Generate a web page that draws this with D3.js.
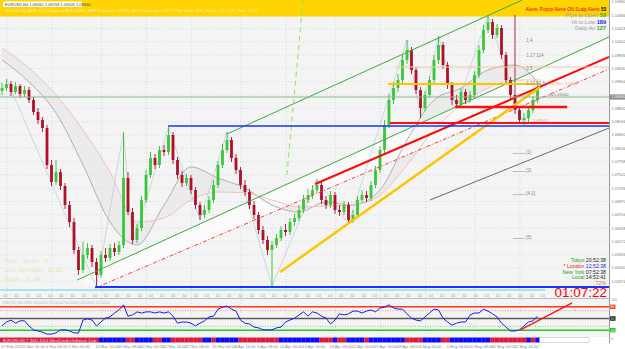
<!DOCTYPE html>
<html>
<head>
<meta charset="utf-8">
<script src="https://cdn.jsdelivr.net/npm/d3@7"></script>
<style>
  body { margin: 0; background: #fff; }
  svg { display: block; font-family: "Liberation Sans", Arial, sans-serif; }
</style>
</head>
<body>
<div id="chart"></div>
<script>
// ---- data (EURUSD H4) ----
var candleOpen = [1.0918,1.0924,1.0932,1.0916,1.0928,1.0912,1.0920,1.0900,1.0876,1.0860,
  1.0844,1.0770,1.0736,1.0756,1.0728,1.0690,1.0656,1.0600,1.0560,1.0590,
  1.0604,1.0576,1.0550,1.0590,1.0584,1.0604,1.0596,1.0610,1.0744,1.0676,
  1.0620,1.0644,1.0700,1.0750,1.0784,1.0770,1.0800,1.0796,1.0830,1.0780,
  1.0750,1.0734,1.0744,1.0720,1.0690,1.0670,1.0680,1.0700,1.0730,1.0770,
  1.0800,1.0820,1.0784,1.0760,1.0730,1.0716,1.0690,1.0670,1.0640,1.0620,
  1.0600,1.0610,1.0624,1.0640,1.0636,1.0656,1.0664,1.0680,1.0700,1.0710,
  1.0720,1.0730,1.0700,1.0690,1.0710,1.0680,1.0676,1.0690,1.0660,1.0670,
  1.0700,1.0710,1.0704,1.0730,1.0760,1.0800,1.0850,1.0900,1.0924,1.0940,
  1.0980,1.1000,1.0960,1.0920,1.0884,1.0910,1.0940,1.0980,1.1010,1.0970,
  1.0930,1.0900,1.0892,1.0916,1.0900,1.0910,1.0950,1.1000,1.1040,1.1056,
  1.1030,1.1044,1.0990,1.0940,1.0910,1.0880,1.0860,1.0864,1.0880,1.0900];
var candleClose = [1.0924,1.0932,1.0916,1.0928,1.0912,1.0920,1.0900,1.0876,1.0860,1.0844,
  1.0770,1.0736,1.0756,1.0728,1.0690,1.0656,1.0600,1.0560,1.0590,1.0604,
  1.0576,1.0550,1.0590,1.0584,1.0604,1.0596,1.0610,1.0744,1.0676,1.0620,
  1.0644,1.0700,1.0750,1.0784,1.0770,1.0800,1.0796,1.0830,1.0780,1.0750,
  1.0734,1.0744,1.0720,1.0690,1.0670,1.0680,1.0700,1.0730,1.0770,1.0800,
  1.0820,1.0784,1.0760,1.0730,1.0716,1.0690,1.0670,1.0640,1.0620,1.0600,
  1.0610,1.0624,1.0640,1.0636,1.0656,1.0664,1.0680,1.0700,1.0710,1.0720,
  1.0730,1.0700,1.0690,1.0710,1.0680,1.0676,1.0690,1.0660,1.0670,1.0700,
  1.0710,1.0704,1.0730,1.0760,1.0800,1.0850,1.0900,1.0924,1.0940,1.0980,
  1.1000,1.0960,1.0920,1.0884,1.0910,1.0940,1.0980,1.1010,1.0970,1.0930,
  1.0900,1.0892,1.0916,1.0900,1.0910,1.0950,1.1000,1.1040,1.1056,1.1030,
  1.1044,1.0990,1.0940,1.0910,1.0880,1.0860,1.0864,1.0880,1.0900,1.0924];
var candleHigh = [1.0934,1.0942,1.0938,1.0936,1.0932,1.0928,1.0926,1.0906,1.0884,1.0866,
  1.0850,1.0780,1.0780,1.0762,1.0734,1.0698,1.0664,1.0606,1.0616,1.0614,
  1.0610,1.0584,1.0598,1.0604,1.0612,1.0614,1.0618,1.0836,1.0756,1.0684,
  1.0652,1.0708,1.0760,1.0796,1.0792,1.0808,1.0810,1.0846,1.0836,1.0786,
  1.0758,1.0752,1.0750,1.0726,1.0696,1.0690,1.0708,1.0740,1.0778,1.0812,
  1.0836,1.0826,1.0792,1.0766,1.0740,1.0722,1.0698,1.0676,1.0648,1.0628,
  1.0618,1.0632,1.0648,1.0652,1.0664,1.0672,1.0690,1.0710,1.0722,1.0730,
  1.0742,1.0736,1.0708,1.0718,1.0716,1.0690,1.0698,1.0696,1.0680,1.0708,
  1.0720,1.0718,1.0738,1.0768,1.0808,1.0860,1.0912,1.0936,1.0952,1.0990,
  1.1020,1.1006,1.0966,1.0926,1.0918,1.0948,1.0990,1.1028,1.1016,1.0976,
  1.0936,1.0910,1.0924,1.0922,1.0918,1.0958,1.1010,1.1050,1.1070,1.1062,
  1.1052,1.1050,1.0996,1.0946,1.1070,1.0888,1.0874,1.0888,1.0908,1.0930];
var candleLow = [1.0910,1.0918,1.0908,1.0912,1.0904,1.0906,1.0894,1.0870,1.0852,1.0836,
  1.0762,1.0728,1.0730,1.0720,1.0682,1.0646,1.0592,1.0550,1.0554,1.0582,
  1.0566,1.0526,1.0544,1.0576,1.0578,1.0588,1.0590,1.0604,1.0670,1.0612,
  1.0614,1.0638,1.0694,1.0744,1.0762,1.0764,1.0788,1.0790,1.0772,1.0742,
  1.0726,1.0728,1.0712,1.0682,1.0660,1.0664,1.0674,1.0694,1.0724,1.0764,
  1.0794,1.0776,1.0752,1.0722,1.0708,1.0682,1.0662,1.0632,1.0612,1.0590,
  1.0528,1.0604,1.0618,1.0628,1.0630,1.0648,1.0658,1.0674,1.0694,1.0702,
  1.0714,1.0692,1.0682,1.0684,1.0672,1.0668,1.0670,1.0652,1.0654,1.0664,
  1.0694,1.0696,1.0698,1.0724,1.0754,1.0794,1.0844,1.0892,1.0916,1.0934,
  1.0972,1.0952,1.0912,1.0864,1.0878,1.0904,1.0934,1.0972,1.0962,1.0922,
  1.0890,1.0884,1.0886,1.0892,1.0894,1.0904,1.0944,1.0994,1.1034,1.1022,
  1.1024,1.0982,1.0932,1.0902,1.0872,1.0852,1.0850,1.0856,1.0874,1.0894];

// RSI(14) per bar
var rsiValues = [31,41,46,38,44,44,31,21,18,15,
  10,10,13,21,21,18,13,13,46,49,
  46,31,41,51,54,64,72,85,56,59,
  67,64,67,67,64,67,64,67,56,38,
  41,41,38,31,38,44,54,56,74,79,
  82,74,69,46,38,36,28,26,21,21,
  21,26,28,41,46,51,59,67,56,67,
  64,56,51,36,46,62,59,62,69,69,
  64,69,72,67,77,79,85,77,74,74,
  62,51,46,44,54,64,74,72,51,41,
  33,38,41,41,59,64,64,74,69,62,
  54,38,28,18,18,21,31,41,44,56];
var rsiLevels = [80, 70, 50, 30, 20];
var rsiTrendIdx = [115.1, 126.7];
var rsiTrendVal = [20, 90];

// trend state strip under the RSI (R = down, B = up)
var trendState = ("RRRRRRRRRRRRRRRRRRRRRR BBBBBB RR BBBB RR BB RRRRRRR BB R BBBBB RRRRRRRRR " +
  "BBBBBBBBB RRR B RR BBBB R BBBBBBBB RRRR BBBB RR BBBBBBBBB RRRRRRRR B R B").replace(/ /g, "").split("");

// moving averages, sampled every 6 bars
var maIdx = [0,6,12,18,24,30,36,42,48,54,60,66,72,78,84,90,96,102,108,114,120];
var maSlow = [1.0980,1.0936,1.0874,1.0770,1.0656,1.0610,1.0690,1.0766,1.0744,1.0724,1.0690,
  1.0676,1.0696,1.0690,1.0720,1.0820,1.0900,1.0924,1.0960,1.0970,1.0924];
var maSlower = [1.1004,1.0964,1.0910,1.0840,1.0756,1.0656,1.0664,1.0700,1.0716,1.0714,1.0700,
  1.0686,1.0688,1.0690,1.0710,1.0770,1.0840,1.0890,1.0924,1.0940,1.0940];

// zigzag swing points
var zigIdx = [1,21,27,29,37,44,50,60,70,77,90,93,97,101,108,116,119];
var zigPrice = [1.0942,1.0526,1.0836,1.0612,1.0846,1.0660,1.0836,1.0528,1.0742,1.0652,
  1.1020,1.0864,1.1028,1.0884,1.1070,1.0850,1.0930];

// drawn trend lines (bar index, price)
var trendNames = ["chanTop","chanMid","chanLow","redTrend","redDash","yellowTrend","greenDash"];
var trendX1 = [50, 16.7, 95.1, 69.6, 20.7, 61.8, 66.9];
var trendP1 = [1.0832, 1.0540, 1.0700, 1.0732, 1.0524, 1.0556, 1.1100];
var trendX2 = [115.6, 134.9, 134.9, 134.9, 134.9, 119.6, 63.3];
var trendP2 = [1.1100, 1.1026, 1.0844, 1.0986, 1.0962, 1.0926, 1.0750];

// horizontal levels
var levelNames = ["pivot","fib","yellowTop","redShort","redLong","blueMid","blueLow","cyan"];
var levelPrice = [1.0906, 1.0966, 1.0932, 1.0886, 1.0854, 1.0848, 1.0526, 1.0520];
var levelFrom = [-1, 87.3, 85.8, 100.7, 86.2, 36.9, 20.7, -1];
var levelTo = [134.9, 134.9, 119.6, 125.6, 134.9, 134.9, 134.9, 120.7];

// fibo expansion labels
var fibText = ["1.4", "1.17 114", "1.5", "1.17 61.8", "[1]", "[2]", "[4.1]", "[5]"];
var fibPrice = [1.1020, 1.0990, 1.0964, 1.0934, 1.0796, 1.0760, 1.0714, 1.0626];

// axis labels
var priceTicks = [1.10960,1.10694,1.10428,1.10162,1.09896,1.09630,1.09364,1.09098,1.08832,1.08566,
  1.08300,1.08034,1.07768,1.07502,1.07236,1.06970,1.06704,1.06438,1.06172,1.05906,1.05640,1.05374];
var lastPrice = 1.0906;
var dateIdx = [0,5,10,15,21,26,31,36,41,47,52,57,62,67,73,78,83,88,93,99,104,109,114];
var dateLabels = ["27 Feb 2023","2 Mar 16:00","6 Mar 08:00","9 Mar 00:00","13 Mar 16:00","16 Mar 08:00",
  "20 Mar 00:00","22 Mar 16:00","27 Mar 08:00","30 Mar 00:00","3 Apr 16:00","6 Apr 08:00","11 Apr 00:00",
  "13 Apr 16:00","18 Apr 08:00","21 Apr 00:00","25 Apr 16:00","28 Apr 08:00","3 May 00:00","5 May 16:00",
  "10 May 08:00","15 May 00:00","17 May 16:00"];

var W = 625, H = 349, plotR = 609, mainB = 298;

var svg = d3.select("#chart").append("svg").attr("width", W).attr("height", H);

var x = d3.scaleLinear().domain([0, 120]).range([2, 542]);
var y = d3.scaleLinear().domain([1.1100, 1.0520]).range([0, 290]);
var rsiY = d3.scaleLinear().domain([0, 100]).range([338, 299]);

svg.append("defs").append("clipPath").attr("id", "mainClip")
  .append("rect").attr("x", 0).attr("y", 0).attr("width", plotR).attr("height", mainB);
svg.select("defs").append("clipPath").attr("id", "rsiClip")
  .append("rect").attr("x", 0).attr("y", 299).attr("width", plotR).attr("height", 38);

// backgrounds
svg.append("rect").attr("width", W).attr("height", H).attr("fill", "#fff");
svg.append("rect").attr("width", plotR).attr("height", mainB).attr("fill", "#f4f4f4");
svg.append("rect").attr("y", 299).attr("width", plotR).attr("height", 38).attr("fill", "#f4f4f4");

// grid
var gridX = dateIdx.filter(function (d, i) { return i % 2 === 0; });
svg.selectAll(".vgrid").data(gridX).enter().append("line")
  .attr("x1", function (d) { return x(d) + 5; }).attr("x2", function (d) { return x(d) + 5; })
  .attr("y1", 0).attr("y2", 337)
  .attr("stroke", "#c9d3dc").attr("stroke-dasharray", "1,2").attr("stroke-width", 0.8);
svg.selectAll(".hgrid").data(priceTicks).enter().append("line")
  .attr("x1", 0).attr("x2", plotR)
  .attr("y1", function (d) { return y(d); }).attr("y2", function (d) { return y(d); })
  .attr("stroke", "#c9d8e6").attr("stroke-dasharray", "1,2").attr("stroke-width", 0.8);

// yellow info banner
svg.append("rect").attr("width", plotR).attr("height", 16.5).attr("fill", "#ffd400");
svg.append("rect").attr("x", 3).attr("y", 1.5).attr("width", 79).attr("height", 5.5).attr("fill", "#fff");
svg.append("text").attr("x", 5).attr("y", 5.8).attr("font-size", 4).attr("fill", "#444")
  .text("EURUSD,H4  1.09062 1.09258 1.09026 1.09060");
svg.append("text").attr("x", 5).attr("y", 12).attr("font-size", 4).attr("fill", "#fff6c8")
  .text("Spread: 1.0  |  ATR: 127  |  Today vs ATR: 149%  |  ATR Projection: 1.0936  |  ATR Projection: 1.0777  |  Pip Value: $10  |  Swap: -7.1 / 1.8  |  Time: 14:52");

var main = svg.append("g").attr("clip-path", "url(#mainClip)");

// MA band and channel fill
var band = d3.area().curve(d3.curveMonotoneX)
  .x(function (d) { return x(d); })
  .y0(function (d, i) { return y(maSlow[i]); })
  .y1(function (d, i) { return y(maSlower[i]); });
main.append("path").datum(maIdx).attr("d", band).attr("fill", "#e4e4e4").attr("opacity", 0.55);

var chanFill = [[trendX1[1], trendP1[1]], [trendX2[1], trendP2[1]], [trendX2[4], trendP2[4]], [trendX1[4], trendP1[4]]];
main.append("path").datum(chanFill)
  .attr("d", d3.line().x(function (d) { return x(d[0]); }).y(function (d) { return y(d[1]); }))
  .attr("fill", "#ffffff").attr("opacity", 0.6);

// moving averages
[[maSlow, "#b0b0b0"], [maSlower, "#f4c0c0"]].forEach(function (m) {
  main.append("path").datum(maIdx)
    .attr("d", d3.line().curve(d3.curveMonotoneX)
      .x(function (d) { return x(d); })
      .y(function (d, i) { return y(m[0][i]); }))
    .attr("fill", "none").attr("stroke", m[1]).attr("stroke-width", 1);
});

// zigzag
main.append("path").datum(zigIdx)
  .attr("d", d3.line().x(function (d) { return x(d); }).y(function (d, i) { return y(zigPrice[i]); }))
  .attr("fill", "none").attr("stroke", "#b7c8d9").attr("stroke-width", 0.7);

// candles
var bars = d3.range(candleClose.length);
main.selectAll(".wick").data(bars).enter().append("line")
  .attr("x1", function (i) { return x(i); }).attr("x2", function (i) { return x(i); })
  .attr("y1", function (i) { return y(candleHigh[i]); })
  .attr("y2", function (i) { return y(candleLow[i]); })
  .attr("stroke", function (i) { return candleClose[i] >= candleOpen[i] ? "#2fbf2f" : "#b0102a"; })
  .attr("stroke-width", 0.9);
main.selectAll(".body").data(bars).enter().append("rect")
  .attr("x", function (i) { return x(i) - 1.4; })
  .attr("width", 2.8)
  .attr("y", function (i) { return y(Math.max(candleOpen[i], candleClose[i])); })
  .attr("height", function (i) { return Math.max(1, Math.abs(y(candleOpen[i]) - y(candleClose[i]))); })
  .attr("fill", function (i) { return candleClose[i] >= candleOpen[i] ? "#39c739" : "#b0102a"; });

// trend lines
var trendStyle = {
  chanTop: ["#3aad3a", 1, null], chanMid: ["#3aad3a", 1, null], chanLow: ["#6a6a6a", 1, null],
  redTrend: ["#ff0a0a", 2, null], redDash: ["#ff3b3b", 1, "4,2,1,2"],
  yellowTrend: ["#ffc400", 2.5, null], greenDash: ["#8fe35c", 1, "5,4"]
};
main.selectAll(".trend").data(trendNames).enter().append("line")
  .attr("x1", function (d, i) { return x(trendX1[i]); })
  .attr("y1", function (d, i) { return y(trendP1[i]); })
  .attr("x2", function (d, i) { return x(trendX2[i]); })
  .attr("y2", function (d, i) { return y(trendP2[i]); })
  .attr("stroke", function (d) { return trendStyle[d][0]; })
  .attr("stroke-width", function (d) { return trendStyle[d][1]; })
  .attr("stroke-dasharray", function (d) { return trendStyle[d][2]; });

// horizontal levels
var levelStyle = {
  pivot: ["#8fb38f", 1], fib: ["#f6c7a6", 1.2], yellowTop: ["#ffc400", 2], redShort: ["#ff1010", 2.5],
  redLong: ["#ff1010", 2], blueMid: ["#1733ff", 1.5], blueLow: ["#1733ff", 2], cyan: ["#a6e2ef", 2]
};
main.selectAll(".level").data(levelNames).enter().append("line")
  .attr("x1", function (d, i) { return x(levelFrom[i]); })
  .attr("x2", function (d, i) { return x(levelTo[i]); })
  .attr("y1", function (d, i) { return y(levelPrice[i]); })
  .attr("y2", function (d, i) { return y(levelPrice[i]); })
  .attr("stroke", function (d) { return levelStyle[d][0]; })
  .attr("stroke-width", function (d) { return levelStyle[d][1]; });

// fibo labels
main.selectAll(".fib").data(fibText).enter().append("text")
  .attr("x", x(116.5)).attr("y", function (d, i) { return y(fibPrice[i]) + 1.5; })
  .attr("font-size", 4.5).attr("fill", "#8a8a8a").text(function (d) { return d; });
main.selectAll(".fibdash").data(fibText.slice(4)).enter().append("line")
  .attr("x1", x(113.5)).attr("x2", x(116.3))
  .attr("y1", function (d, i) { return y(fibPrice[i + 4]) + 1.5; })
  .attr("y2", function (d, i) { return y(fibPrice[i + 4]) + 1.5; })
  .attr("stroke", "#9a9a9a").attr("stroke-width", 0.6);
main.append("text").attr("x", x(121)).attr("y", y(1.0932) + 1).attr("font-size", 4.2)
  .attr("fill", "#f0a060").text("1.10750 / 1.0932");
main.append("text").attr("x", x(121.5)).attr("y", y(lastPrice) - 1).attr("font-size", 4.2)
  .attr("fill", "#6f8f6f").text("4=1.09060");
main.append("text").attr("x", x(118)).attr("y", y(1.0854) - 1).attr("font-size", 4.2)
  .attr("fill", "#f0a060").text("1.08540");

// faint position-size panel
["Pos. Size:        0", "Lot Spread:   0.00", "Risk:    0.0%"].forEach(function (t, i) {
  svg.append("text").attr("x", 5).attr("y", 263 + i * 9).attr("font-size", 6)
    .attr("font-family", "Liberation Mono, monospace").attr("fill", "#eae2a8").text(t);
});

// banner / info texts at top right
var alerts = svg.append("text").attr("x", 606).attr("y", 10.5).attr("text-anchor", "end").attr("font-size", 4.6);
alerts.append("tspan").attr("fill", "#e00000").text("Alerts:  Popup Alerts ON   Scalp Alerts ");
alerts.append("tspan").attr("fill", "#000").attr("font-weight", "bold").text("53");
[["Pips to Open ", "58", "#2eaa2e", 17], ["Hi to Low ", "189", "#1a1aff", 23.5], ["Daily Av ", "127", "#2eaa2e", 30]]
  .forEach(function (r) {
    var t = svg.append("text").attr("x", 606).attr("y", r[3]).attr("text-anchor", "end").attr("font-size", 5.6);
    t.append("tspan").attr("fill", "#a0a0a0").text(r[0]);
    t.append("tspan").attr("fill", r[2]).attr("font-weight", "bold").text(r[1]);
  });

// session clocks
[["Tokyo ", "#2a9a2a", "20:52:38", "#222"], ["* London ", "#ee1111", "12:52:38", "#2222ee"],
 ["New York ", "#2a9a2a", "07:52:38", "#222"], ["Local ", "#2a9a2a", "14:52:41", "#222"]]
  .forEach(function (r, i) {
    var t = svg.append("text").attr("x", 606).attr("y", 262 + i * 5.8).attr("text-anchor", "end").attr("font-size", 5.2);
    t.append("tspan").attr("fill", r[1]).text(r[0]);
    t.append("tspan").attr("fill", r[3]).text(r[2]);
  });
svg.append("text").attr("x", 606).attr("y", 285).attr("text-anchor", "end").attr("font-size", 5.2)
  .attr("fill", "#e07050").text(":  :   72%");
svg.append("text").attr("x", 607).attr("y", 297).attr("text-anchor", "end").attr("font-size", 13.5)
  .attr("fill", "#ff0000").text("01:07:22");

// hour marks row
svg.selectAll(".hour").data(d3.range(3, 545, 11.2)).enter().append("text")
  .attr("x", function (d) { return d; }).attr("y", 296.5)
  .attr("font-size", 3.8).attr("fill", "#999").text("14");

// separators
svg.append("line").attr("x1", 0).attr("x2", plotR).attr("y1", 298.5).attr("y2", 298.5).attr("stroke", "#bdbdbd");

// RSI panel
var rsiG = svg.append("g").attr("clip-path", "url(#rsiClip)");
var rsiStyle = [["#ff3a10", 1.5, null], ["#ff6f6f", 0.8, "1,1.5"], ["#5a5a5a", 1.4, null], ["#5ccc5c", 0.8, "1,1.5"], ["#22c822", 1.5, null]];
rsiG.selectAll(".rlevel").data(rsiLevels).enter().append("line")
  .attr("x1", 0).attr("x2", plotR)
  .attr("y1", function (d) { return rsiY(d); }).attr("y2", function (d) { return rsiY(d); })
  .attr("stroke", function (d, i) { return rsiStyle[i][0]; })
  .attr("stroke-width", function (d, i) { return rsiStyle[i][1]; })
  .attr("stroke-dasharray", function (d, i) { return rsiStyle[i][2]; });
rsiG.append("path").datum(rsiValues)
  .attr("d", d3.line().x(function (d, i) { return x(i); }).y(function (d) { return rsiY(d); }))
  .attr("fill", "none").attr("stroke", "#1a1aff").attr("stroke-width", 1);
rsiG.append("line")
  .attr("x1", x(rsiTrendIdx[0])).attr("y1", rsiY(rsiTrendVal[0]))
  .attr("x2", x(rsiTrendIdx[1])).attr("y2", rsiY(rsiTrendVal[1]))
  .attr("stroke", "#ff1010").attr("stroke-width", 1.3);
svg.append("text").attr("x", 3).attr("y", 304).attr("font-size", 4).attr("fill", "#c0c0c0")
  .text("RSI(14)  56.2841  80.0000  70.0000  50.0000  30.0000  20.0000");

// trend state strip
svg.selectAll(".state").data(trendState).enter().append("rect")
  .attr("x", function (d, i) { return x(i) - 2.25; }).attr("width", 4.6)
  .attr("y", 337.5).attr("height", 5)
  .attr("fill", function (d) { return d === "R" ? "#dc1b3c" : "#0a0aff"; });
svg.append("rect").attr("x", x(119.5)).attr("y", 337.5).attr("width", plotR - x(119.5) - 20).attr("height", 5)
  .attr("fill", "#fff").attr("stroke", "#bbb").attr("stroke-width", 0.5);
svg.append("text").attr("x", 3).attr("y", 341.6).attr("font-size", 3.8).attr("fill", "#f3d0d6")
  .text("EURUSD,H4  © 2001-2024, MetaQuotes Software Corp.");

// right price axis
svg.append("rect").attr("x", plotR).attr("width", W - plotR).attr("height", H).attr("fill", "#fff");
svg.append("line").attr("x1", plotR + 0.5).attr("x2", plotR + 0.5).attr("y1", 0).attr("y2", 343).attr("stroke", "#9a9a9a");
var shownTicks = priceTicks.filter(function (d) { return Math.abs(y(d) - y(lastPrice)) > 5.5; });
svg.selectAll(".ptick").data(shownTicks).enter().append("text")
  .attr("x", plotR + 2.5).attr("y", function (d) { return y(d) + 1.4; })
  .attr("font-size", 3.9).attr("fill", "#777").text(function (d) { return d3.format(".5f")(d); });
svg.append("rect").attr("x", plotR + 1).attr("y", y(lastPrice) - 2.6).attr("width", W - plotR - 1).attr("height", 5.2).attr("fill", "#8c8c8c");
svg.append("text").attr("x", plotR + 2.5).attr("y", y(lastPrice) + 1.4).attr("font-size", 3.9)
  .attr("fill", "#fff").text(d3.format(".5f")(lastPrice));

// RSI axis marks
var rsiBoxColor = { 80: "#ff4010", 50: "#111", 20: "#22c822" };
[80, 50, 20].forEach(function (v) {
  svg.append("rect").attr("x", plotR + 1).attr("y", rsiY(v) - 2.2).attr("width", 5.5).attr("height", 4.4).attr("fill", rsiBoxColor[v]);
  svg.append("text").attr("x", plotR + 1.5).attr("y", rsiY(v) + 1.3).attr("font-size", 3.5).attr("fill", "#fff").text(v);
});
[100, 0].forEach(function (v) {
  svg.append("text").attr("x", plotR + 2).attr("y", rsiY(v) + 1.8).attr("font-size", 3.5).attr("fill", "#888").text(v);
});

// date axis
svg.selectAll(".dlabel").data(dateLabels).enter().append("text")
  .attr("x", function (d, i) { return x(dateIdx[i]) - 1; }).attr("y", 347.8)
  .attr("font-size", 4).attr("fill", "#8a8a8a").text(function (d) { return d; });
</script>
</body>
</html>
